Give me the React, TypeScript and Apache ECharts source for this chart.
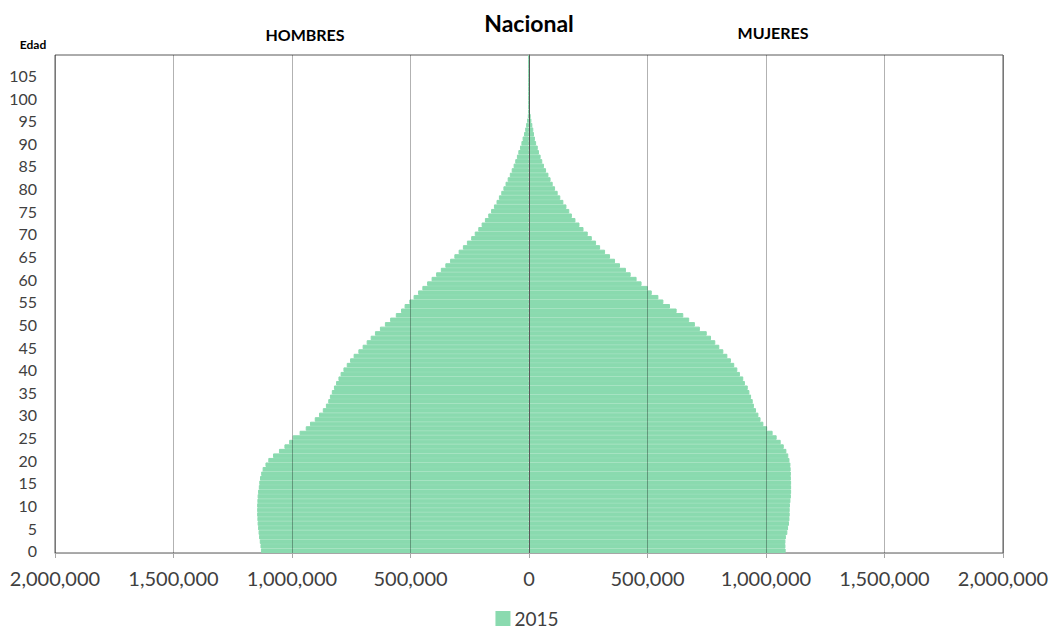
import React, { useEffect, useRef } from "react";
import * as echarts from "echarts";

const edades: string[] = Array.from({ length: 110 }, (_, i) => String(i));

const hombres: number[] = [
  1131000, 1133000, 1136000, 1139000, 1141000, 1143000, 1145000, 1146000, 1147000, 1147000,
  1147000, 1146000, 1145000, 1143000, 1140000, 1138000, 1135000, 1130000, 1124000, 1112000,
  1100000, 1080000, 1055000, 1032000, 1012000, 997000, 968000, 942000, 924000, 904000,
  886000, 870000, 857000, 847000, 840000, 832000, 823000, 814000, 804000, 795000,
  783000, 769000, 755000, 740000, 720000, 702000, 685000, 668000, 650000, 629000,
  608000, 586000, 562000, 540000, 525000, 505000, 487000, 468000, 450000, 430000,
  411000, 392000, 372000, 353000, 333000, 315000, 297000, 279000, 262000, 244000,
  229000, 214000, 200000, 186000, 172000, 160000, 148000, 137000, 127000, 117000,
  108000, 99000, 90000, 81000, 73000, 65000, 58000, 51000, 45000, 38000,
  32000, 27000, 21000, 16000, 12000, 8000, 5000, 3000, 2200, 2000,
  1900, 1800, 1700, 1600, 1500, 1400, 1300, 1200, 1100, 1000,
];

const mujeres: number[] = [
  1083000, 1082000, 1082000, 1084000, 1090000, 1093000, 1097000, 1099000, 1100000, 1100000,
  1101000, 1103000, 1105000, 1106000, 1106000, 1106000, 1105000, 1105000, 1104000, 1103000,
  1099000, 1094000, 1086000, 1075000, 1062000, 1045000, 1028000, 1005000, 989000, 977000,
  968000, 958000, 949000, 944000, 937000, 930000, 923000, 911000, 904000, 890000,
  879000, 866000, 852000, 837000, 820000, 803000, 786000, 768000, 750000, 721000,
  700000, 676000, 651000, 623000, 595000, 567000, 546000, 518000, 501000, 475000,
  454000, 429000, 409000, 384000, 363000, 342000, 321000, 300000, 283000, 265000,
  248000, 230000, 213000, 196000, 181000, 170000, 158000, 145000, 132000, 121000,
  110000, 100000, 91000, 82000, 72000, 63000, 56000, 49000, 42000, 37000,
  30000, 25000, 21000, 18000, 14000, 10000, 7000, 4000, 3000, 2500,
  2200, 2000, 1900, 1800, 1700, 1600, 1500, 1400, 1300, 1200,
];

const titulo = "Nacional";
const etiquetaHombres = "HOMBRES";
const etiquetaMujeres = "MUJERES";
const etiquetaEdad = "Edad";
const anio = "2015";

const FONT = "Lato, 'Open Sans', sans-serif";
const GREEN = "#8ADAAF";

export default function App() {
  const ref = useRef<HTMLDivElement>(null);

  useEffect(() => {
    if (!ref.current) return;
    const chart = echarts.init(ref.current, undefined, { renderer: "svg" });
    const fmt = (v: number) => Math.abs(v).toLocaleString("en-US");
    chart.setOption({
      animation: false,
      textStyle: { fontFamily: FONT },
      grid: {
        left: 55,
        right: 51,
        top: 55,
        bottom: 77,
        show: true,
        borderColor: "#595959",
        borderWidth: 1,
      },
      legend: {
        data: [anio],
        top: 609,
        left: "center",
        padding: 0,
        icon: "rect",
        itemWidth: 13,
        itemHeight: 13,
        itemGap: 6,
        textStyle: { fontSize: 19, color: "#404040", fontFamily: FONT },
      },
      graphic: [
        {
          type: "text",
          x: 529,
          y: 23,
          style: {
            text: titulo,
            font: `bold 23px ${FONT}`,
            fill: "#000",
            textAlign: "center",
            textVerticalAlign: "middle",
          },
        },
        {
          type: "text",
          x: 305,
          y: 34,
          style: {
            text: etiquetaHombres,
            font: `bold 16px ${FONT}`,
            fill: "#000",
            textAlign: "center",
            textVerticalAlign: "middle",
          },
        },
        {
          type: "text",
          x: 773,
          y: 32,
          style: {
            text: etiquetaMujeres,
            font: `bold 16px ${FONT}`,
            fill: "#000",
            textAlign: "center",
            textVerticalAlign: "middle",
          },
        },
        {
          type: "text",
          x: 33,
          y: 44,
          style: {
            text: etiquetaEdad,
            font: `bold 12px ${FONT}`,
            fill: "#000",
            textAlign: "center",
            textVerticalAlign: "middle",
          },
        },
      ],
      xAxis: {
        type: "value",
        min: -2000000,
        max: 2000000,
        interval: 500000,
        z: 3,
        axisLine: { show: true, lineStyle: { color: "#a6a6a6", width: 1 } },
        axisTick: { show: true, length: 5, lineStyle: { color: "#a6a6a6" } },
        splitLine: { show: true, lineStyle: { color: "rgba(0,0,0,0.3)", width: 1 } },
        axisLabel: {
          formatter: fmt,
          fontSize: 20,
          color: "#404040",
          margin: 15,
          fontFamily: FONT,
        },
      },
      yAxis: {
        type: "category",
        data: edades,
        boundaryGap: true,
        z: 3,
        axisLine: { show: true, lineStyle: { color: "#595959" } },
        axisTick: { show: false },
        axisLabel: {
          interval: 4,
          fontSize: 16,
          color: "#404040",
          margin: 18,
          fontFamily: FONT,
        },
        splitLine: { show: false },
      },
      series: [
        {
          name: anio,
          type: "bar",
          stack: "total",
          barCategoryGap: "0%",
          itemStyle: { color: GREEN, borderColor: GREEN, borderWidth: 1 },
          data: hombres.map((v) => -v),
        },
        {
          name: anio,
          type: "bar",
          stack: "total",
          barCategoryGap: "0%",
          itemStyle: { color: GREEN, borderColor: GREEN, borderWidth: 1 },
          data: mujeres,
        },
      ],
    });
    return () => chart.dispose();
  }, []);

  return <div ref={ref} style={{ width: 1054, height: 630, position: "absolute", left: 0, top: 0 }} />;
}
